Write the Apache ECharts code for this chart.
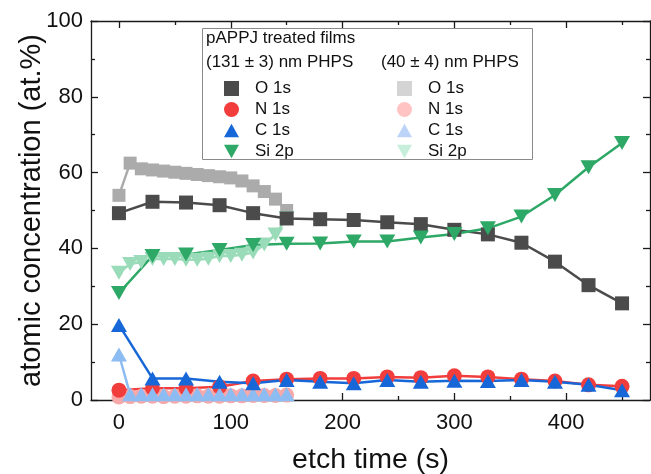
<!DOCTYPE html>
<html>
<head>
<meta charset="utf-8">
<script src="https://cdn.jsdelivr.net/npm/echarts@6/dist/echarts.min.js"></script>
<style>
  html, body { margin: 0; padding: 0; background: #ffffff; }
  #chart { width: 651px; height: 474px; }
</style>
</head>
<body>
<div id="chart"></div>
<script>
// Etch times (s)
const thickTimes = [0, 30, 60, 90, 120, 150, 180, 210, 240, 270, 300, 330, 360, 390, 420, 450];
const thinTimes = [0, 10, 20, 30, 40, 50, 60, 70, 80, 90, 100, 110, 120, 130, 140, 150];

// (131 ± 3) nm PHPS film, atomic concentration (at.%)
const thickO  = [49.3, 52.3, 52.1, 51.4, 49.3, 47.9, 47.7, 47.5, 46.9, 46.4, 44.9, 43.7, 41.5, 36.5, 30.3, 25.5];
const thickN  = [2.6, 3.1, 3.1, 3.5, 5.0, 5.5, 5.7, 5.7, 6.1, 5.9, 6.4, 6.1, 5.5, 5.0, 4.0, 3.6];
const thickC  = [19.8, 5.7, 5.7, 4.8, 4.4, 5.3, 4.8, 4.4, 5.3, 4.8, 5.1, 5.0, 5.3, 4.8, 4.0, 2.6];
const thickSi = [28.2, 38.0, 38.4, 39.6, 40.9, 41.2, 41.3, 41.8, 41.8, 42.9, 43.8, 45.3, 48.4, 54.1, 61.4, 67.8];

// (40 ± 4) nm PHPS film, atomic concentration (at.%)
const thinO  = [54.0, 62.5, 61.0, 60.7, 60.4, 60.1, 59.8, 59.5, 59.2, 58.9, 58.6, 57.8, 56.5, 55.0, 53.0, 50.0];
const thinN  = [0.8, 0.9, 1.0, 1.0, 0.9, 1.0, 1.0, 1.1, 1.0, 1.0, 1.1, 1.1, 1.2, 1.2, 1.2, 1.3];
const thinC  = [12.0, 1.5, 1.5, 1.5, 1.5, 1.5, 1.5, 1.5, 1.5, 1.5, 1.5, 1.5, 1.5, 1.5, 1.5, 1.5];
const thinSi = [33.6, 35.9, 36.4, 37.2, 37.2, 37.2, 37.0, 37.0, 37.3, 38.0, 38.0, 38.3, 38.9, 41.0, 43.7, 48.0];

// Axis ticks
const xTickLabels = [0, 100, 200, 300, 400];
const xMinorTicks = [50, 150, 250, 350, 450];
const yTickLabels = [0, 20, 40, 60, 80, 100];

const FONT = '"Liberation Sans", Arial, Helvetica, sans-serif';
const DOWN_TRIANGLE = 'path://M0,0L10,0L5,9Z';

const dark = { O: '#4b4b4b', N: '#f23d3d', C: '#1767d8', Si: '#2da866' };
const light = { O: '#ababab', N: '#f7a8a8', C: '#8dbcf3', Si: '#9adbb9' };
const lightKey = { O: '#d4d4d4', N: '#ffc3c3', C: '#bcd4f8', Si: '#c6eedb' };

function pairs(times, values) {
  return times.map((t, i) => [t, values[i]]);
}

function lineSeries(name, times, values, color, symbol, size) {
  return {
    type: 'line',
    name: name,
    xAxisIndex: 0,
    yAxisIndex: 0,
    data: pairs(times, values),
    symbol: symbol,
    symbolSize: size,
    showAllSymbol: true,
    itemStyle: { color: color, opacity: 1 },
    lineStyle: { color: color, width: 2.5 },
    emphasis: { disabled: true },
    animation: false
  };
}

const series = [
  lineSeries('O 1s|40',  thinTimes,  thinO,  light.O,  'rect', 13),
  lineSeries('N 1s|40',  thinTimes,  thinN,  light.N,  'circle', 15),
  lineSeries('Si 2p|40', thinTimes,  thinSi, light.Si, DOWN_TRIANGLE, [16, 14]),
  lineSeries('O 1s|131', thickTimes, thickO, dark.O,   'rect', 14),
  lineSeries('N 1s|131', thickTimes, thickN, dark.N,   'circle', 15),
  lineSeries('C 1s|40',  thinTimes,  thinC,  light.C,  'triangle', [16, 14]),
  lineSeries('C 1s|131', thickTimes, thickC, dark.C,   'triangle', [16, 14]),
  lineSeries('Si 2p|131', thickTimes, thickSi, dark.Si, DOWN_TRIANGLE, [16, 14])
];

const axisLineStyle = { color: '#1a1a1a', width: 1.3 };

function legendBlock(left, suffix, colors) {
  return {
    orient: 'vertical',
    left: left,
    top: 75,
    itemWidth: 15,
    itemHeight: 15,
    itemGap: 4,
    selectedMode: false,
    z: 10,
    formatter: n => n.split('|')[0],
    textStyle: { fontSize: 17, fontFamily: FONT, color: '#111', padding: [0, 0, 0, 11] },
    data: [
      { name: 'O 1s|' + suffix,  icon: 'path://M0,0L13,0L13,13L0,13Z', itemStyle: { color: colors.O } },
      { name: 'N 1s|' + suffix,  icon: 'circle',      itemStyle: { color: colors.N } },
      { name: 'C 1s|' + suffix,  icon: 'path://M5,0L10,9L0,9Z', itemStyle: { color: colors.C } },
      { name: 'Si 2p|' + suffix, icon: DOWN_TRIANGLE, itemStyle: { color: colors.Si } }
    ]
  };
}

const headerText = (x, y, text) => ({
  type: 'text', left: x, top: y, z: 10,
  style: { text: text, font: '17px "Liberation Sans", Arial, sans-serif', fill: '#111' }
});

const chart = echarts.init(document.getElementById('chart'), null, { renderer: 'canvas' });

chart.setOption({
  animation: false,
  backgroundColor: '#ffffff',
  grid: [
    { left: 91, right: 1, top: 21, bottom: 74, outerBoundsMode: 'none', containLabel: false },
    { left: 91, right: 1, top: 21, bottom: 74, outerBoundsMode: 'none', containLabel: false }
  ],
  xAxis: [
    {
      gridIndex: 0, type: 'value', position: 'bottom', min: -25, max: 475,
      axisLine: { show: true, onZero: false, lineStyle: axisLineStyle },
      axisTick: { show: true, inside: true, length: 7, customValues: xTickLabels, lineStyle: axisLineStyle },
      axisLabel: { customValues: xTickLabels, fontSize: 22, fontFamily: FONT, color: '#111', margin: 12 },
      splitLine: { show: false },
      name: 'etch time (s)', nameLocation: 'middle', nameGap: 46, nameMoveOverlap: false,
      nameTextStyle: { fontSize: 28.5, fontFamily: FONT, color: '#111' }
    },
    {
      gridIndex: 0, type: 'value', position: 'top', min: -25, max: 475,
      axisLine: { show: true, onZero: false, lineStyle: axisLineStyle },
      axisTick: { show: true, inside: true, length: 7, customValues: xTickLabels, lineStyle: axisLineStyle },
      axisLabel: { show: false },
      splitLine: { show: false }
    },
    {
      gridIndex: 1, type: 'value', position: 'bottom', min: -25, max: 475,
      axisLine: { show: false, onZero: false },
      axisTick: { show: true, inside: true, length: 4, customValues: xMinorTicks, lineStyle: axisLineStyle },
      axisLabel: { show: false },
      splitLine: { show: false }
    },
    {
      gridIndex: 1, type: 'value', position: 'top', min: -25, max: 475,
      axisLine: { show: false, onZero: false },
      axisTick: { show: true, inside: true, length: 4, customValues: xMinorTicks, lineStyle: axisLineStyle },
      axisLabel: { show: false },
      splitLine: { show: false }
    }
  ],
  yAxis: [
    {
      gridIndex: 0, type: 'value', position: 'left', min: 0, max: 100,
      axisLine: { show: true, onZero: false, lineStyle: axisLineStyle },
      axisTick: { show: true, inside: true, length: 7, customValues: yTickLabels, lineStyle: axisLineStyle },
      minorTick: { show: true, splitNumber: 2, length: 4, lineStyle: axisLineStyle },
      axisLabel: { customValues: yTickLabels, fontSize: 22, fontFamily: FONT, color: '#111', margin: 8 },
      splitLine: { show: false },
      minorSplitLine: { show: false },
      interval: 20,
      name: 'atomic concentration (at.%)', nameLocation: 'middle', nameGap: 45, nameMoveOverlap: false,
      nameTextStyle: { fontSize: 29, fontFamily: FONT, color: '#111' }
    },
    {
      gridIndex: 0, type: 'value', position: 'right', min: 0, max: 100, interval: 20,
      axisLine: { show: true, onZero: false, lineStyle: axisLineStyle },
      axisTick: { show: true, inside: true, length: 7, lineStyle: axisLineStyle },
      minorTick: { show: true, splitNumber: 2, length: 4, lineStyle: axisLineStyle },
      axisLabel: { show: false },
      splitLine: { show: false }
    },
    {
      gridIndex: 1, type: 'value', min: 0, max: 100, show: false
    }
  ],
  legend: [
    legendBlock(219, '131', dark),
    legendBlock(392, '40', lightKey)
  ],
  graphic: [
    {
      type: 'rect', left: 202, top: 28, z: 9,
      shape: { width: 330, height: 131 },
      style: { fill: '#ffffff', stroke: '#8a8a8a', lineWidth: 1 }
    },
    headerText(206, 30, 'pAPPJ treated films'),
    headerText(206, 54, '(131 ± 3) nm PHPS'),
    headerText(381, 54, '(40 ± 4) nm PHPS')
  ],
  series: series
});
</script>
</body>
</html>
